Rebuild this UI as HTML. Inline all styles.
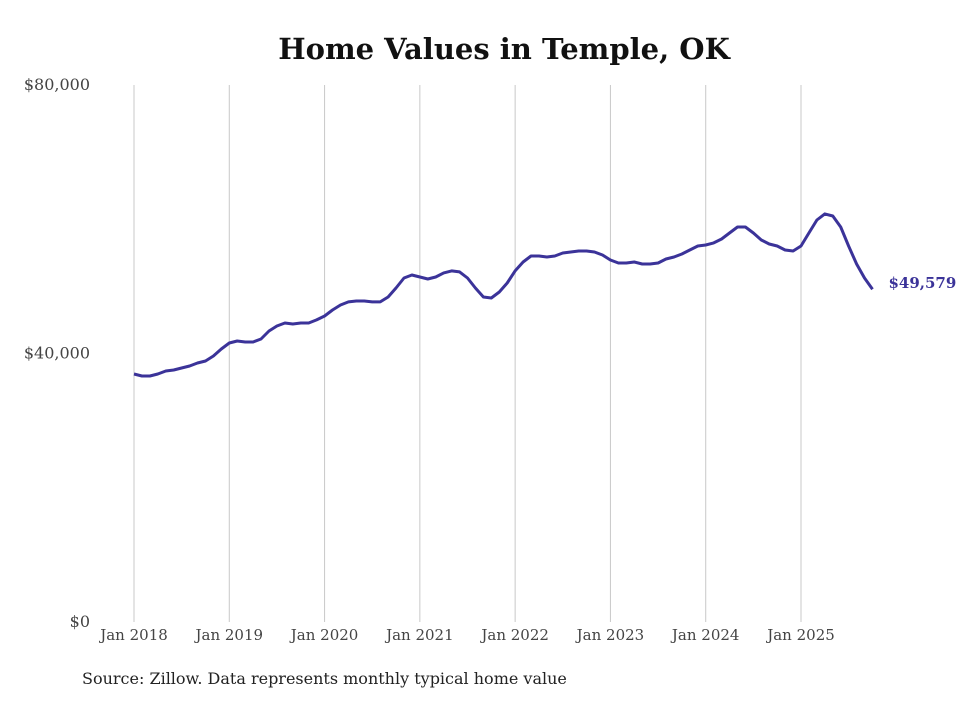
<!DOCTYPE html>
<html><head><meta charset="utf-8"><style>
body{margin:0;background:#fff;}
svg text{font-family:"DejaVu Serif",serif;}
</style></head><body>
<svg id="c" width="980" height="699" xmlns="http://www.w3.org/2000/svg">
<text x="504" y="59" text-anchor="middle" font-size="29" font-weight="bold" fill="#111">Home Values in Temple, OK</text>
<g id="grid"></g><g id="yt"></g><g id="xt"></g><g id="ln"></g>
<text x="82" y="684" font-size="16" fill="#222">Source: Zillow. Data represents monthly typical home value</text>
</svg>
<script>
const yTicks=[0,40000,80000];
const yTickLabels=["$0","$40,000","$80,000"];
const xYears=[2018,2019,2020,2021,2022,2023,2024,2025];
const values=[36950,36650,36650,36950,37390,37540,37840,38140,38590,38880,39630,40670,
41560,41860,41710,41710,42160,43350,44100,44540,44400,44540,44540,45000,
45590,46480,47230,47680,47820,47820,47680,47680,48420,49760,51250,51700,
51400,51100,51400,52000,52300,52150,51250,49760,48420,48270,49160,50500,
52300,53630,54530,54530,54380,54530,54970,55120,55270,55270,55120,54680,
53930,53480,53480,53630,53330,53330,53480,54080,54380,54830,55420,56020,
56170,56470,57060,57950,58850,58850,57950,56910,56320,56020,55420,55270,
56020,57950,59890,60790,60490,58850,56020,53330,51250,49579];
const lastLabel="$49,579";
const NS="http://www.w3.org/2000/svg";
const x=m=>134+m*(801-134)/84;
const y=v=>622-v*(622-85)/80000;
function mk(t,a,p){const e=document.createElementNS(NS,t);for(const k in a)e.setAttribute(k,a[k]);document.getElementById(p).appendChild(e);return e;}
xYears.forEach((yr,i)=>{
 const g=mk('line',{x1:x(i*12),x2:x(i*12),y1:85,y2:622,stroke:'#c8c8c8','stroke-width':1},'grid');
 
 
 const t=mk('text',{x:x(i*12),y:640,'text-anchor':'middle','font-size':15,fill:'#444'},'xt');
 t.textContent='Jan '+yr;
 
 
});
yTicks.forEach((v,i)=>{
 const t=mk('text',{x:90,y:y(v)+5,'text-anchor':'end','font-size':16,fill:'#444'},'yt');
 t.textContent=yTickLabels[i];
 
 
});
const d=values.map((v,i)=>(i?'L':'M')+x(i).toFixed(1)+','+y(v).toFixed(1)).join('');
const p=mk('path',{d:d,fill:'none',stroke:'#3b3399','stroke-width':3,'stroke-linejoin':'round'},'ln');


const li=values.length-1;
const l=mk('text',{x:x(li)+16,y:y(values[li])-1,'font-size':15,'font-weight':'bold',fill:'#3b3399'},'ln');
l.textContent=lastLabel;


</script>
</body></html>
